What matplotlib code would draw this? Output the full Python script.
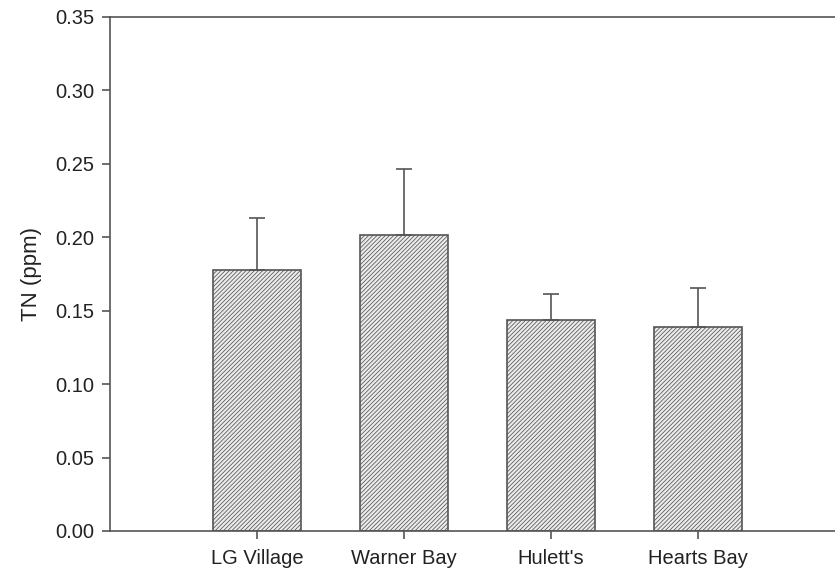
import matplotlib
matplotlib.use('Agg')
import matplotlib.pyplot as plt

sites = ["LG Village", "Warner Bay", "Hulett's", "Hearts Bay"]
tn_mean = [0.1775, 0.2015, 0.1437, 0.1391]
tn_err = [0.0358, 0.0450, 0.0177, 0.0262]

plt.rcParams['font.family'] = 'Liberation Sans'
plt.rcParams['hatch.color'] = '#bdbdbd'
plt.rcParams['hatch.linewidth'] = 0.55

fig = plt.figure(figsize=(8.35, 5.76), dpi=100)
# axes run off the right edge of the figure like the source
ax = fig.add_axes([110 / 835, 45 / 576, 735 / 835, 514 / 576])

x = [1, 2, 3, 4]
ax.bar(x, tn_mean, width=0.605, color='#ebebeb', edgecolor='#555555',
       linewidth=1.2, hatch='////////', zorder=2)
ax.errorbar(x, tn_mean, yerr=[[0] * 4, tn_err], fmt='none', ecolor='#555555',
            elinewidth=1.2, capsize=6, capthick=1.2, zorder=3)

ax.set_xlim(0, 5)
ax.set_ylim(0, 0.35)
ax.set_yticks([0, 0.05, 0.10, 0.15, 0.20, 0.25, 0.30, 0.35])
ax.set_yticklabels(['%.2f' % v for v in ax.get_yticks()])
ax.set_xticks(x)
ax.set_xticklabels(sites)

for s in ['left', 'bottom', 'top']:
    ax.spines[s].set_color('#555555')
    ax.spines[s].set_linewidth(1.2)
ax.spines['right'].set_visible(False)

ax.tick_params(direction='out', length=6, width=1.2, color='#555555',
               labelsize=14.5, labelcolor='#222222')
ax.tick_params(axis='y', pad=5)
ax.tick_params(axis='x', pad=7)
ax.set_ylabel('TN (ppm)', fontsize=16, color='#222222', labelpad=10)

fig.savefig('out.png', dpi=100)
